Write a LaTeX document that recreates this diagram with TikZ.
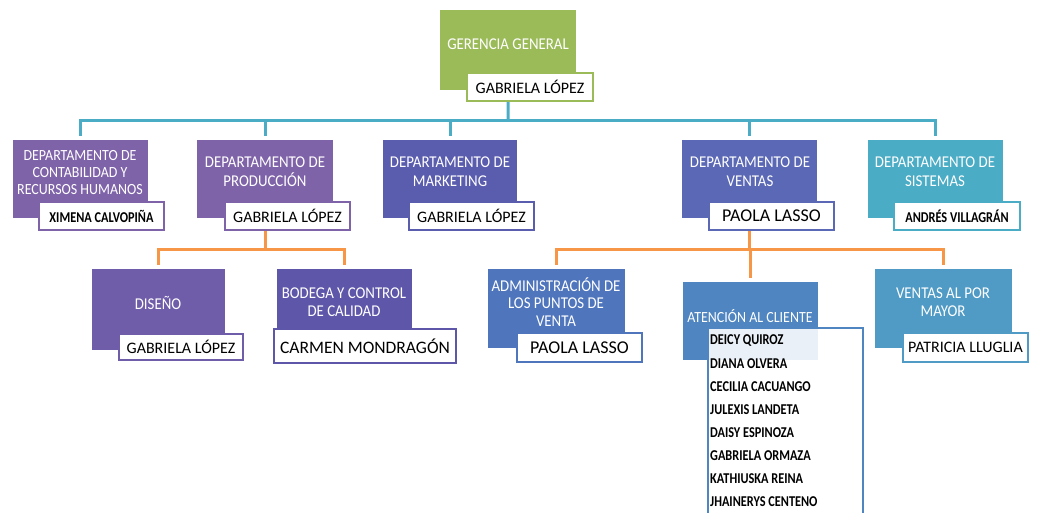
\documentclass[tikz,border=0pt]{standalone}
\usepackage{fontspec}
\setmainfont{Carlito}
\newfontfamily\titlefont{Carlito}[FakeStretch=0.9]
\newfontfamily\narrowfont{Carlito}[FakeStretch=0.82]
\usepackage{tikz}

\definecolor{gerencia}{HTML}{9BBB59}
\definecolor{morado}{HTML}{7F63A9}
\definecolor{indigo}{HTML}{5A5CAE}
\definecolor{ventas}{HTML}{5A68B5}
\definecolor{sistemas}{HTML}{4BACC6}
\definecolor{diseno}{HTML}{6F5DAA}
\definecolor{bodega}{HTML}{5E57A9}
\definecolor{puntos}{HTML}{4F75BD}
\definecolor{atencion}{HTML}{4F85C0}
\definecolor{mayor}{HTML}{4F9BC6}
\definecolor{naranja}{HTML}{F79646}

\begin{document}
\begin{tikzpicture}[x=1pt,y=-1pt,
   area/.style={rectangle, inner sep=0pt, anchor=north west, minimum width=135, minimum height=78},
   titulo/.style={text=white, align=center, inner sep=0pt, font=\titlefont\fontsize{16.5}{19}\selectfont},
   jefe/.style={draw, line width=2pt, fill=white, anchor=north west, inner sep=0pt,
                minimum width=125, minimum height=28, font=\fontsize{16}{18}\selectfont},
   miembro/.style={anchor=west, inner sep=0pt, font=\narrowfont\bfseries\fontsize{15}{17}\selectfont},
   bus/.style={draw=sistemas, line width=3pt, shorten >=4pt},
   rama/.style={draw=naranja, line width=3pt, shorten >=4pt}]
  \useasboundingbox (0,0) rectangle (1038,512);
  \clip (0,0) rectangle (1038,512);

  \node[area, fill=gerencia, minimum width=136, minimum height=80] (ger) at (440,10) {};
  \node[titulo] (gerT) at (508,44) {GERENCIA GENERAL};
  \node[jefe, draw=gerencia, minimum width=126] (gerN) at (466,72) {GABRIELA LÓPEZ};

  \node[area, fill=morado] (cont) at (13,140) {};
  \node[titulo, font=\titlefont\fontsize{15.5}{17}\selectfont] (contT) at (80,173)
     {DEPARTAMENTO DE\\CONTABILIDAD Y\\RECURSOS HUMANOS};
  \node[jefe, draw=morado, font=\narrowfont\bfseries\fontsize{15}{17}\selectfont] (contN) at (38,201) {XIMENA CALVOPIÑA};

  \node[area, fill=morado, minimum width=136] (prod) at (197,140) {};
  \node[titulo] (prodT) at (265,172) {DEPARTAMENTO DE\\PRODUCCIÓN};
  \node[jefe, draw=morado] (prodN) at (224,201) {GABRIELA LÓPEZ};

  \node[area, fill=indigo, minimum width=134] (mark) at (383,140) {};
  \node[titulo] (markT) at (450,172) {DEPARTAMENTO DE\\MARKETING};
  \node[jefe, draw=indigo] (markN) at (408,201) {GABRIELA LÓPEZ};

  \node[area, fill=ventas] (vent) at (682,140) {};
  \node[titulo] (ventT) at (750,172) {DEPARTAMENTO DE\\VENTAS};
  \node[jefe, draw=ventas, font=\fontsize{18}{20}\selectfont] (ventN) at (708,201) {PAOLA LASSO};

  \node[area, fill=sistemas] (sist) at (868,140) {};
  \node[titulo] (sistT) at (935,172) {DEPARTAMENTO DE\\SISTEMAS};
  \node[jefe, draw=sistemas, minimum width=126, font=\narrowfont\bfseries\fontsize{15}{17}\selectfont] (sistN) at (893,201) {ANDRÉS VILLAGRÁN};

  \node[area, fill=diseno, minimum width=133, minimum height=81] (dis) at (92,269) {};
  \node[titulo] (disT) at (158,303) {DISEÑO};
  \node[jefe, draw=diseno, minimum width=124, minimum height=26] (disN) at (118,333) {GABRIELA LÓPEZ};

  \node[area, fill=bodega, minimum height=61] (bod) at (277,269) {};
  \node[titulo, font=\titlefont\fontsize{16.5}{17.5}\selectfont] (bodT) at (344,302) {BODEGA Y CONTROL\\DE CALIDAD};
  \node[jefe, draw=bodega, minimum width=182, minimum height=34, font=\fontsize{17.5}{20}\selectfont] (bodN) at (273,328) {CARMEN MONDRAGÓN};

  \node[area, fill=puntos, minimum width=137, minimum height=79] (adm) at (488,269) {};
  \node[titulo, font=\titlefont\fontsize{16.5}{17.5}\selectfont] (admT) at (556,302) {ADMINISTRACIÓN DE\\LOS PUNTOS DE\\VENTA};
  \node[jefe, draw=puntos, minimum height=29, font=\fontsize{18}{20}\selectfont] (admN) at (516,332) {PAOLA LASSO};

  \node[area, fill=atencion] (ate) at (683,282) {};
  \node[titulo, font=\titlefont\fontsize{15.5}{17}\selectfont] (ateT) at (750,316) {ATENCIÓN AL CLIENTE};
  \node[jefe, draw=atencion, fill opacity=0.88, minimum width=155, minimum height=200] (ateN) at (707,327) {};
  \foreach \p [count=\i] in {DEICY QUIROZ, DIANA OLVERA, CECILIA CACUANGO, JULEXIS LANDETA,
                             DAISY ESPINOZA, GABRIELA ORMAZA, KATHIUSKA REINA, JHAINERYS CENTENO}
    \node[miembro] (m\i) at (710,{341+23*(\i-1)}) {\p};

  \node[area, fill=mayor, minimum width=137, minimum height=79] (may) at (875,269) {};
  \node[titulo, font=\titlefont\fontsize{16.5}{17.5}\selectfont] (mayT) at (943,302) {VENTAS AL POR\\MAYOR};
  \node[jefe, draw=mayor, minimum height=29] (mayN) at (902,332) {PATRICIA LLUGLIA};

  \coordinate (hub) at (508,120);
  \draw[bus, shorten >=0pt] (gerN.south -| ger.south) -- (hub);
  \foreach \d in {cont,prod,mark,vent,sist}
    \draw[bus] (hub) -| (\d.north);

  \coordinate (pHub) at (prod.south |- 0,249);
  \draw[rama, shorten >=0pt] (prodN.south -| prod.south) -- (pHub);
  \foreach \d in {dis,bod}
    \draw[rama] (pHub) -| (\d.north);

  \coordinate (vHub) at (vent.south |- 0,249);
  \draw[rama, shorten >=0pt] (ventN.south -| vent.south) -- (vHub);
  \foreach \d in {adm,ate,may}
    \draw[rama] (vHub) -| (\d.north);
\end{tikzpicture}
\end{document}
